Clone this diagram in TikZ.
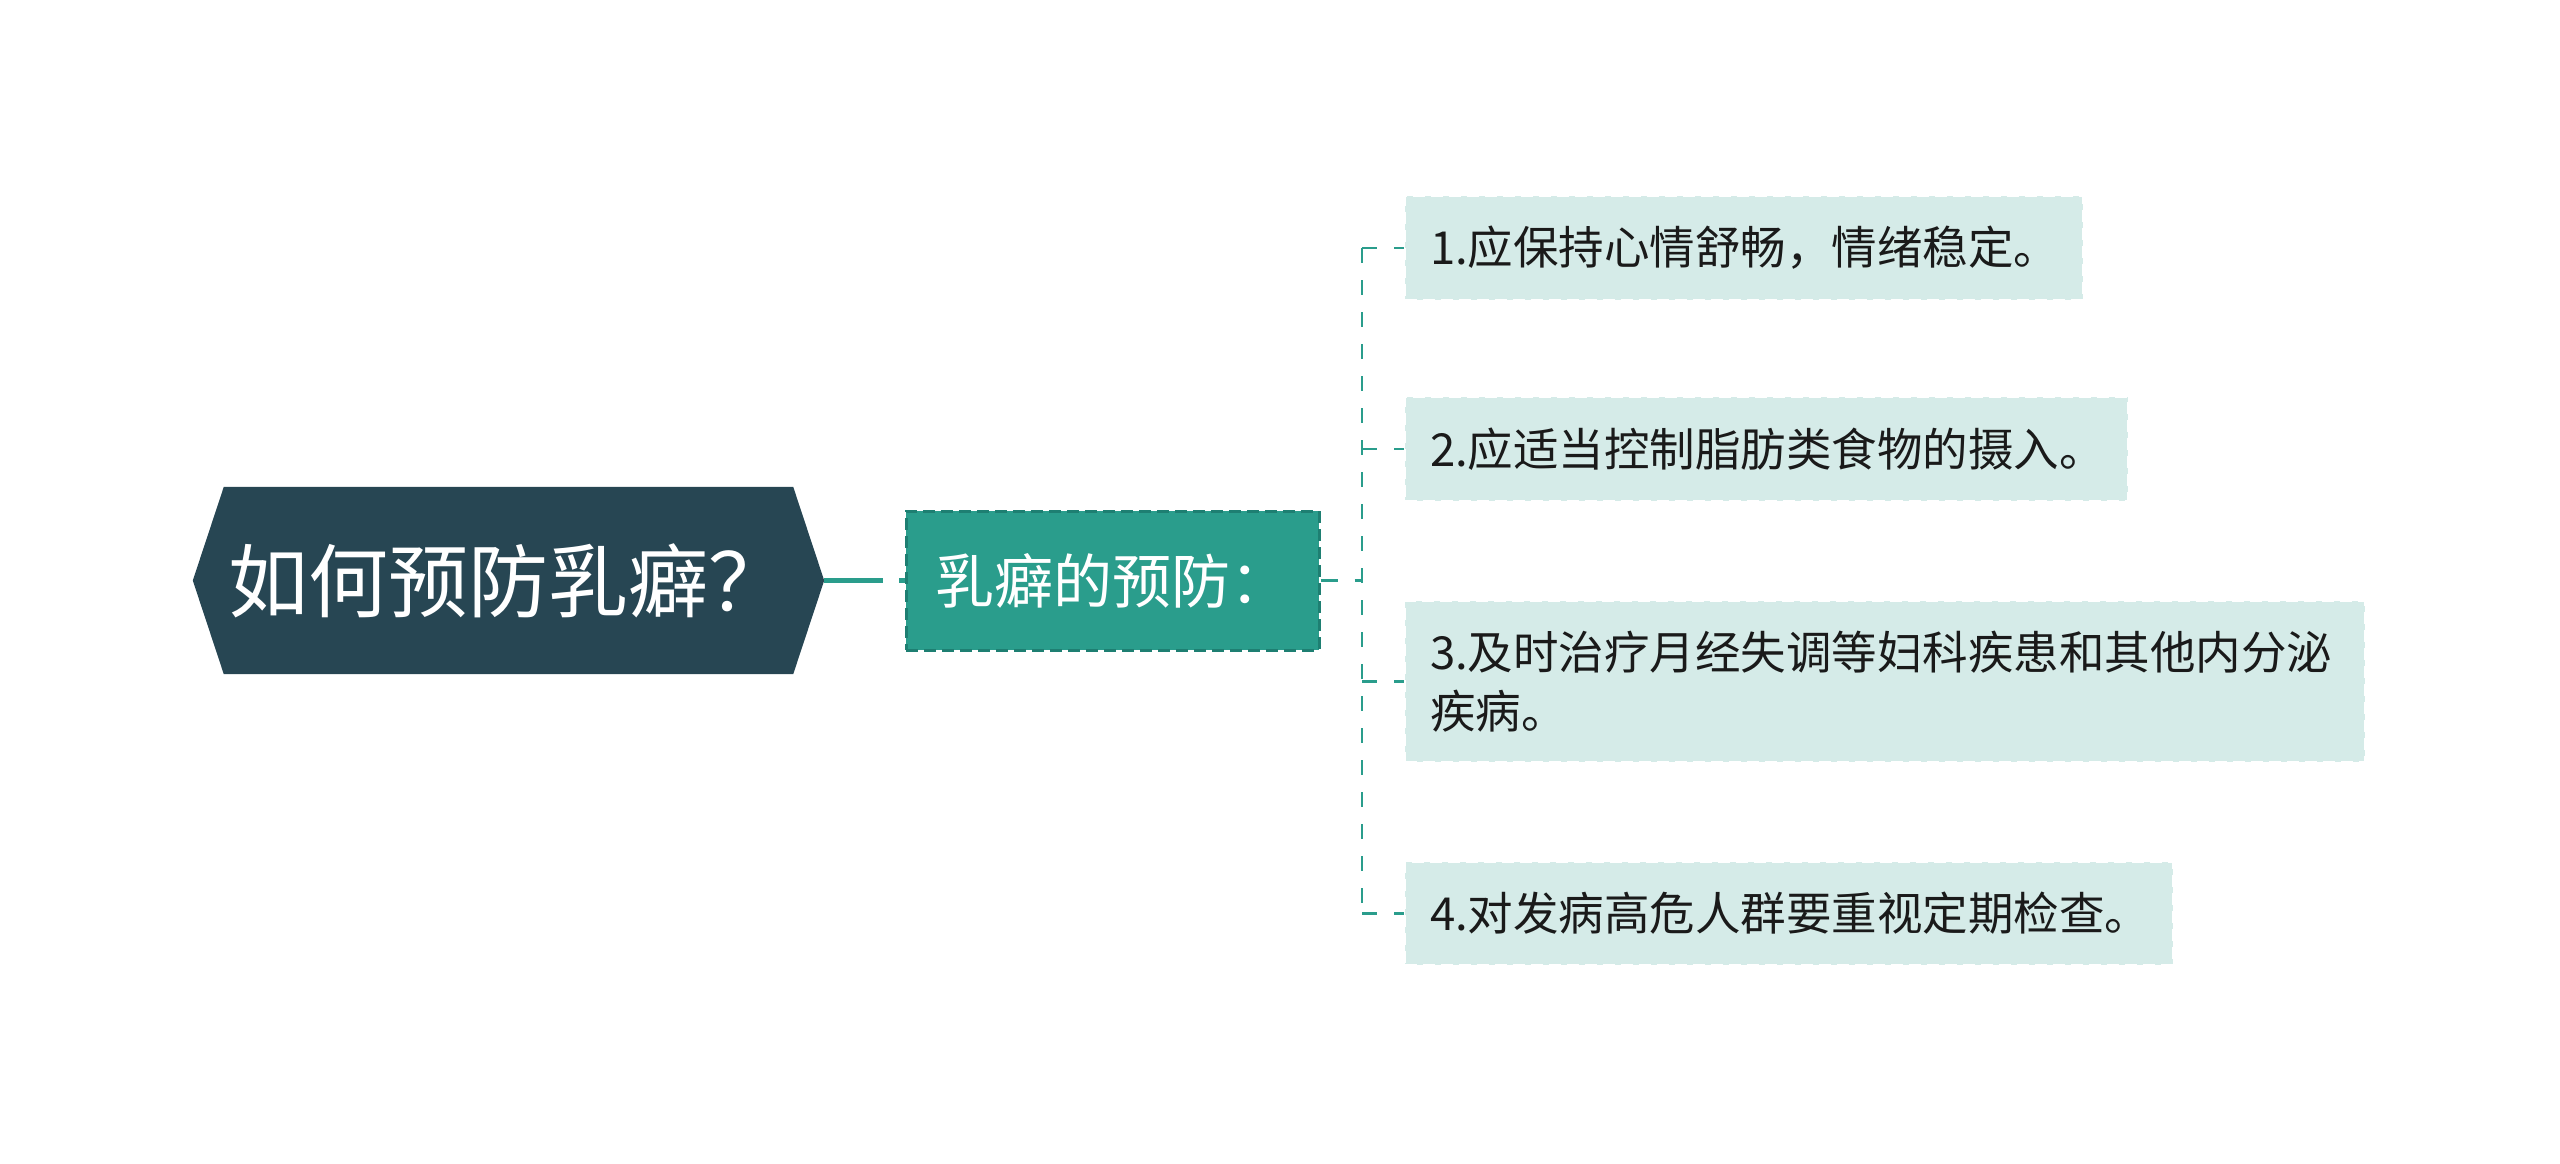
\documentclass[tikz,border=0pt]{standalone}
\usepackage{fontspec}
\newfontfamily\cjk{Noto Sans CJK SC}
\usetikzlibrary{calc,backgrounds}
\definecolor{rootc}{HTML}{274653}
\definecolor{subc}{HTML}{2A9D8C}
\definecolor{subb}{HTML}{1E7F72}
\definecolor{leafc}{HTML}{D5EBE8}
\definecolor{linec}{HTML}{2A9D8C}
\definecolor{txt}{HTML}{1A1A1A}
\begin{document}
\begin{tikzpicture}[x=1pt,y=-1pt,
  rootbox/.style={rectangle, minimum width=631pt, minimum height=187pt, inner sep=0pt, text=white, font=\cjk\fontsize{80}{94}\selectfont},
  subbox/.style={rectangle, fill=subc, draw=subb, line width=3pt, dash pattern=on 12pt off 6pt, minimum width=413pt, minimum height=139pt, inner sep=0pt, text=white, font=\cjk\fontsize{59}{70}\selectfont},
  leafbox/.style={rectangle, fill=leafc, draw=white, line width=2pt, dash pattern=on 12pt off 6pt, inner xsep=25pt, inner ysep=0pt, align=left, anchor=west, text=txt, font=\cjk\fontsize{45.5}{59}\selectfont},
  trunkline/.style={draw=linec, line width=2.5pt, dash pattern=on 15pt off 17pt},
]
\useasboundingbox (0,0) rectangle (2560,1163);

\node[rootbox] (root) at (508.5,580.5) {如何预防乳癖？};
\begin{scope}[on background layer]
\fill[rootc] (root.west) -- ($(root.north west)+(31,0)$) -- ($(root.north east)+(-31,0)$) -- (root.east) -- ($(root.south east)+(-31,0)$) -- ($(root.south west)+(31,0)$) -- cycle;
\end{scope}

\node[subbox] (sub) at (1112.5,580.5) {乳癖的预防：};

\node[leafbox, text width=628pt, minimum height=104pt] (l1) at (1404,248) {1.应保持心情舒畅，情绪稳定。};
\node[leafbox, text width=673pt, minimum height=104pt] (l2) at (1404,449) {2.应适当控制脂肪类食物的摄入。};
\node[leafbox, text width=910pt, minimum height=161pt] (l3) at (1404,681.5) {3.及时治疗月经失调等妇科疾患和其他内分泌\\疾病。};
\node[leafbox, text width=718pt, minimum height=103pt] (l4) at (1404,913.5) {4.对发病高危人群要重视定期检查。};

\draw[draw=linec, line width=5pt, dash pattern=on 59pt off 16pt on 30pt off 16pt] (root.east) -- (sub.west);
\coordinate (tr) at (1362,580.5);
\draw[draw=linec, line width=3pt, dash pattern=on 17pt off 17pt] (sub.east) -- (tr);
\draw[trunkline] (tr |- l1.west) -- (tr |- l4.west);
\foreach \i in {1,...,4} {
  \draw[trunkline] (tr |- l\i.west) -- (l\i.west);
}
\end{tikzpicture}
\end{document}
